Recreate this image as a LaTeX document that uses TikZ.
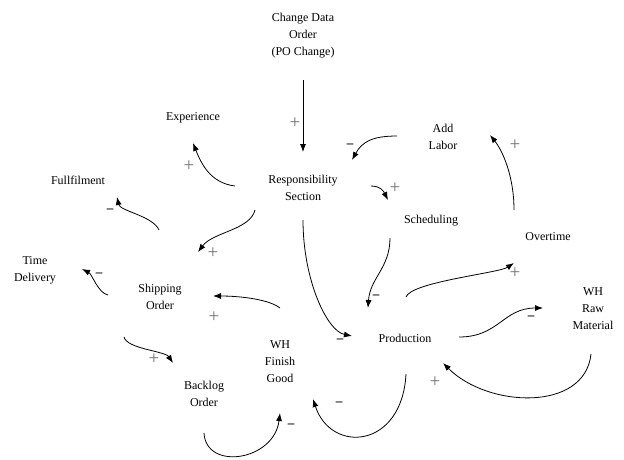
\documentclass[tikz,border=0pt]{standalone}
\usepackage{fontspec}
\setmainfont{Liberation Serif}
\usepackage{tikz}
\usetikzlibrary{arrows.meta,calc}

\begin{document}
\begin{tikzpicture}[
    x=1pt, y=-1pt,
    factor/.style={
        align=center,
        inner sep=0pt,
        font=\fontsize{12}{17}\selectfont
    },
    link/.style={-{Latex[length=8pt,width=6pt]}, line width=0.8pt},
    plus/.style={text=black!55, inner sep=0pt, font=\fontsize{19}{19}\selectfont},
    minus/.style={inner sep=0pt, font=\fontsize{13}{13}\selectfont\bfseries}
]
    \useasboundingbox (0,0) rectangle (624,459);

    % variables
    \node[factor] (chgdata) at (303,36) {Change Data\\Order\\(PO Change)};
    \node[factor] (resp) at (303,188) {Responsibility\\Section};
    \node[factor] (exp) at (193,118) {Experience};
    \node[factor] (labor) at (443,137) {Add\\Labor};
    \node[factor] (fulfil) at (78,180) {Fullfilment};
    \node[factor] (sched) at (431,221) {Scheduling};
    \node[factor] (overtime) at (548,237) {Overtime};
    \node[factor] (timedel) at (35,270) {Time\\Delivery};
    \node[factor] (ship) at (160,297) {Shipping\\Order};
    \node[factor] (rawmat) at (593,309) {WH\\Raw\\Material};
    \node[factor] (prod) at (405,338) {Production};
    \node[factor] (finish) at (280,362) {WH\\Finish\\Good};
    \node[factor] (backlog) at (204,394) {Backlog\\Order};

    % causal links
    \draw[link] ($(chgdata)+(0,44)$) -- ($(resp)+(0,-36)$);
    \draw[link] ($(resp)+(-68,-2)$) .. controls +(-25,-3) and +(8,20) .. ($(exp)+(0,25)$);
    \draw[link] ($(labor)+(-46,-1)$) .. controls +(-25,0) and +(10,-18) .. ($(resp)+(49,-28)$);
    \draw[link] ($(overtime)+(-34,-27)$) .. controls +(0,-35) and +(12,15) .. ($(labor)+(47,-2)$);
    \draw[link] ($(resp)+(68,-2)$) .. controls +(10,0) and +(-4,-8) .. ($(sched)+(-43,-21)$);
    \draw[link] ($(resp)+(-48,22)$) .. controls +(-5,20) and +(15,-20) .. ($(ship)+(38,-45)$);
    \draw[link] ($(ship)+(-1,-67)$) .. controls +(-6,-14) and +(3,14) .. ($(fulfil)+(39,17)$);
    \draw[link] ($(ship)+(-52,-2)$) .. controls +(-10,-2) and +(10,5) .. ($(timedel)+(47,-1)$);
    \draw[link] ($(finish)+(0,-54)$) .. controls +(-10,-8) and +(30,0) .. ($(ship)+(53,-1)$);
    \draw[link] ($(ship)+(-36,40)$) .. controls +(3,12) and +(-8,-12) .. ($(backlog)+(-31,-31)$);
    \draw[link] ($(backlog)+(0,39)$) .. controls +(2,38) and +(-6,48) .. ($(finish)+(0,51)$);
    \draw[link] ($(prod)+(1,36)$) .. controls +(-4,75) and +(18,55) .. ($(finish)+(33,37)$);
    \draw[link] ($(resp)+(0,32)$) .. controls +(0,60) and +(-25,-5) .. ($(prod)+(-53,-2)$);
    \draw[link] ($(sched)+(-41,17)$) .. controls +(0,30) and +(2,-30) .. ($(prod)+(-37,-30)$);
    \draw[link] ($(prod)+(1,-41)$) .. controls +(5,-15) and +(-15,10) .. ($(overtime)+(-34,26)$);
    \draw[link] ($(prod)+(54,-1)$) .. controls +(40,0) and +(-40,0) .. ($(rawmat)+(-50,-1)$);
    \draw[link] ($(rawmat)+(-2,45)$) .. controls +(-6,58) and +(45,45) .. ($(prod)+(38,25)$);

    % polarities
    \node[plus] (p1) at (295,123) {+};
    \node[plus] (p2) at (189,166) {+};
    \node[minus] (m3) at (350,146) {--};
    \node[plus] (p4) at (515,145) {+};
    \node[plus] (p5) at (395,188) {+};
    \node[plus] (p6) at (213,253) {+};
    \node[minus] (m7) at (110,211) {--};
    \node[minus] (m8) at (99,275) {--};
    \node[plus] (p9) at (214,317) {+};
    \node[plus] (p10) at (154,359) {+};
    \node[minus] (m11) at (291,426) {--};
    \node[minus] (m12) at (339,404) {--};
    \node[minus] (m13) at (340,341) {--};
    \node[minus] (m14) at (376,297) {--};
    \node[plus] (p15) at (515,273) {+};
    \node[minus] (m16) at (531,318) {--};
    \node[plus] (p17) at (435,382) {+};
\end{tikzpicture}
\end{document}
